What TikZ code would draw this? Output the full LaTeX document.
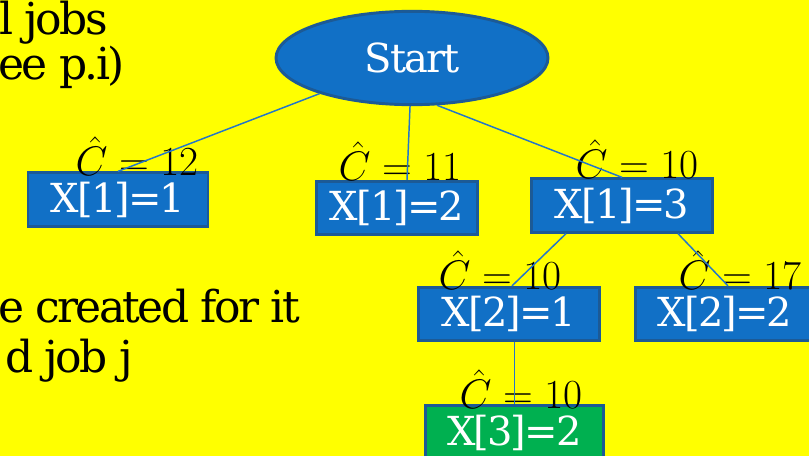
\RequirePackage{fix-cm}
\documentclass[tikz,border=0pt]{standalone}
\usepackage{amsmath}
\usepackage[no-math]{fontspec}
\setmainfont{DejaVu Serif}
\newfontfamily\slidefont[LetterSpace=-6]{DejaVu Serif}
\newfontfamily\boxfont[LetterSpace=-5]{DejaVu Serif}
\usetikzlibrary{calc,shapes.geometric}
\definecolor{slideyellow}{RGB}{255,255,0}
\definecolor{boxblue}{RGB}{17,112,198}
\definecolor{boxedge}{RGB}{28,90,150}
\definecolor{linkblue}{RGB}{36,118,200}
\definecolor{boxgreen}{RGB}{0,176,80}

\begin{document}
\begin{tikzpicture}[x=0.75pt,y=-0.75pt,
  every node/.style={font=\boxfont\fontsize{30}{34}\selectfont},
  boxnode/.style={rectangle,draw=boxedge,line width=2.2pt,fill=boxblue,
    text=white,inner sep=0pt,minimum height=40pt},
  cost/.style={inner sep=0pt,font=\normalfont\fontsize{31}{36}\selectfont},
  slidetext/.style={anchor=base east,inner sep=0pt,font=\slidefont\fontsize{33}{38}\selectfont},
  link/.style={draw=linkblue,line width=1.1pt}]
  \fill[slideyellow] (0,0) rectangle (809,456);
  \clip (0,0) rectangle (809,456);
  % slide text, cut off at the left edge
  \node[slidetext] (jobs) at (108,35) {l jobs};
  \node[slidetext] (seepi) at (125,80) {ee p.i)};
  \node[slidetext] (created) at (300,322) {e created for it};
  \node[slidetext] (jobj) at (133,372) {d job j};
  % tree
  \node[ellipse,draw=boxedge,line width=2.2pt,fill=boxblue,text=white,
    minimum width=204pt,minimum height=70pt,inner sep=0pt] (start) at (412,58) {Start};
  \node[boxnode,minimum width=135pt] (x11) at (118,199.5) {X[1]=1};
  \node[boxnode,minimum width=121pt] (x12) at (397,208) {X[1]=2};
  \node[boxnode,minimum width=136pt] (x13) at (622,205.5) {X[1]=3};
  \node[boxnode,minimum width=136pt] (x21) at (509,314) {X[2]=1};
  \node[boxnode,minimum width=134pt] (x22) at (725,314) {X[2]=2};
  \node[boxnode,fill=boxgreen,minimum width=134pt] (x32) at (514.5,432.5) {X[3]=2};
  % cost estimates
  \node[cost] (c11) at (137,156) {$\hat{C} = 12$};
  \node[cost] (c12) at (400,161) {$\hat{C} = 11$};
  \node[cost] (c13) at (637,159) {$\hat{C} = 10$};
  \node[cost] (c21) at (500,270) {$\hat{C} = 10$};
  \node[cost] (c22) at (740,270) {$\hat{C} = 17$};
  \node[cost] (c32) at (521,389) {$\hat{C} = 10$};
  % branches
  \draw[link] (start) -- (x11.north);
  \draw[link] (start) -- ($(x12.north)+(10,0)$);
  \draw[link] (start.-62) -- (x13.north);
  \draw[link] ($(x13.south)+(-56,0)$) -- ($(x21.north)+(3,0)$);
  \draw[link] ($(x13.south)+(56,0)$) -- ($(x22.north)+(3,0)$);
  \draw[link] (x32.north |- x21.south) -- (x32.north);
\end{tikzpicture}
\end{document}
